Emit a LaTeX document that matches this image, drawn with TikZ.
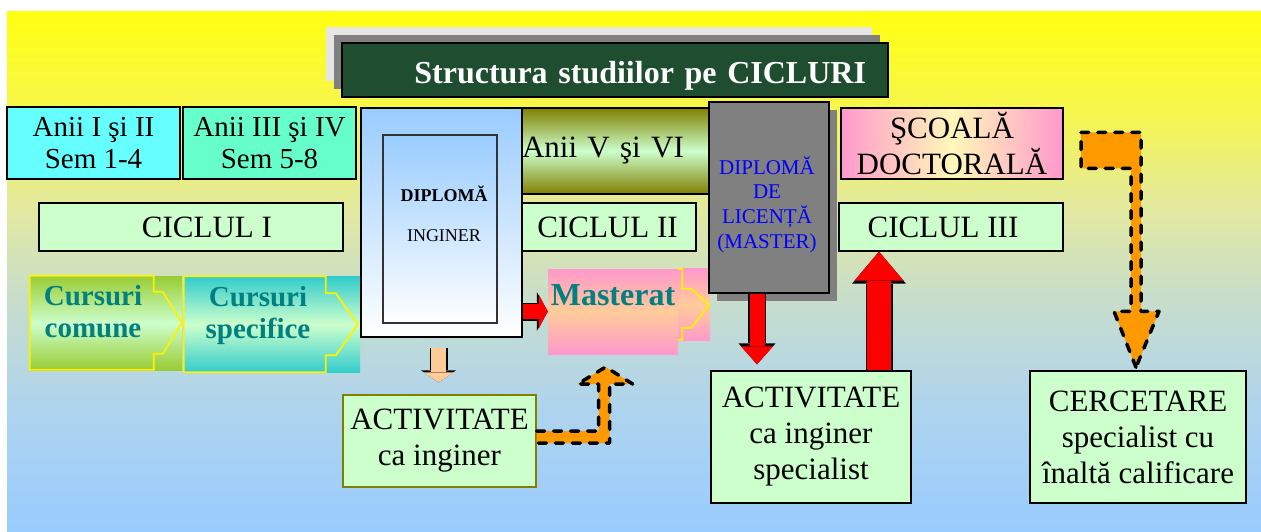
\documentclass[tikz,border=0pt]{standalone}
\usepackage{fontspec}
\setmainfont{Liberation Serif}
\usetikzlibrary{arrows.meta, shadows}

\definecolor{bgblue}{HTML}{99CCFF}
\definecolor{bgblue2}{HTML}{B0D4EC}
\definecolor{bgmid}{HTML}{C8DECB}
\definecolor{bgpale}{HTML}{E2E9A0}
\definecolor{bgyel2}{HTML}{F6F650}
\definecolor{bgyellow}{HTML}{FFFF10}
\definecolor{cyanA}{HTML}{66FFFF}
\definecolor{aquaA}{HTML}{66FFCC}
\definecolor{lgreen}{HTML}{CCFFCC}
\definecolor{oliveA}{HTML}{808000}
\definecolor{lblue}{HTML}{99CCFF}
\definecolor{pinkA}{HTML}{FF99CC}
\definecolor{peachA}{HTML}{FFCC99}
\definecolor{lyellow}{HTML}{FFF8B8}
\definecolor{grayA}{HTML}{808080}
\definecolor{ygreenA}{HTML}{99CC33}
\definecolor{tealL}{HTML}{33CCCC}
\definecolor{tealC}{HTML}{008080}
\definecolor{orangeC}{HTML}{FF9900}
\definecolor{titlegreen}{HTML}{1F4D30}
\definecolor{titlegray}{HTML}{E6E6E6}

\pgfdeclareverticalshading{bgshade}{100bp}{color(0bp)=(bgblue); color(25bp)=(bgblue); color(37.5bp)=(bgblue2); color(47.5bp)=(bgmid); color(56bp)=(bgpale); color(65bp)=(bgyel2); color(75bp)=(bgyellow); color(100bp)=(bgyellow)}

\begin{document}
\begin{tikzpicture}[x=1pt, y=-1pt,
        box/.style = {draw, line width=1.3pt, inner sep=0pt, align=center, font=\fontsize{31}{36}\selectfont},
        lbox/.style = {box, fill=lgreen},
        curs/.style = {text=tealC, align=center, font=\bfseries\fontsize{29}{32}\selectfont},
        chev/.style = {draw=yellow, line width=1.8pt},
        redh/.style = {draw=red, line width=15pt, -{Triangle[width=34pt, length=9pt, line width=0pt]}, preaction={draw=black, line width=18pt, -{Triangle[width=39pt, length=11pt, line width=0pt]}}},
        redv/.style = {draw=red, line width=15pt, -{Triangle[width=32pt, length=18pt, line width=0pt]}, preaction={draw=black, line width=18pt, -{Triangle[width=37pt, length=21pt, line width=0pt]}}},
        redup/.style = {draw=red, line width=24pt, -{Triangle[width=49pt, length=29pt, line width=0pt]}, preaction={draw=black, line width=27pt, -{Triangle[width=54pt, length=32pt, line width=0pt]}}},
        peach/.style = {draw=peachA, line width=15pt, -{Triangle[width=30pt, length=10pt, line width=0pt]}, preaction={draw=black, line width=18pt, -{Triangle[width=35pt, length=12pt, line width=0pt]}}},
        dasharrow/.style = {draw=black, fill=orangeC, line width=3.5pt, dash pattern=on 8pt off 9pt, line cap=round, line join=round}]
                \useasboundingbox (0,0) rectangle (1261,531);
                \shade[shading=bgshade] (7,11) rectangle (1261,531);

                \node[draw, line width=1.5pt, fill=titlegreen, minimum width=546pt, minimum height=54pt, inner ysep=0pt, inner xsep=22pt, text width=502pt, align=right, text height=26pt, text depth=0pt, text=white, font=\bfseries\fontsize{32}{38}\selectfont, copy shadow={shadow xshift=-16pt, shadow yshift=16pt, fill=titlegray, draw=none}, copy shadow={shadow xshift=-8pt, shadow yshift=8pt, fill=grayA, draw=none}] at (615,70) (title) {Structura studiilor pe CICLURI};

                \node[box, fill=cyanA, font=\fontsize{29}{32}\selectfont, minimum width=173pt, minimum height=72pt] at (93.5,143) (anii1) {Anii I şi II\\Sem 1-4};
                \node[box, fill=aquaA, font=\fontsize{29}{32}\selectfont, minimum width=173pt, minimum height=72pt] at (269.5,143) (anii2) {Anii III şi IV\\Sem 5-8};
                \node[box, top color=oliveA, bottom color=oliveA, middle color=lgreen, minimum width=190pt, minimum height=86pt, text width=184pt, align=left] at (614,151) (anii3) {Anii V şi VI};
                \node[box, left color=pinkA, right color=pinkA, middle color=lyellow, minimum width=222pt, minimum height=71pt] at (952,143.5) (scoala) {ŞCOALĂ\\DOCTORALĂ};

                \node[lbox, minimum width=304pt, minimum height=48pt] at (191,227) (ciclu1) {\hspace*{32pt}CICLUL I};
                \node[lbox, minimum width=177pt, minimum height=48pt] at (607.5,227) (ciclu2) {CICLUL II};
                \node[lbox, minimum width=224pt, minimum height=48pt] at (951,227) (ciclu3) {CICLUL III\hspace*{16pt}};

                \node[top color=ygreenA, bottom color=ygreenA, middle color=lgreen, minimum width=152pt, minimum height=94pt, inner sep=0pt, label={[curs, xshift=-13pt, yshift=11pt]center:{Cursuri\\comune}}] at (106,323) (curs1) {};
                \node[top color=tealL, bottom color=tealL, middle color=lgreen, minimum width=176pt, minimum height=96pt, inner sep=0pt, label={[curs, xshift=-14pt, yshift=9pt]center:{Cursuri\\specifice}}] at (272,324.5) (curs2) {};
                \draw[chev] (curs1.north west) -- ++(124,0) -- ++(0,16) -- ++(9,0) -- ++(19,31) -- ++(-19,31) -- ++(-9,0) -- ++(0,16) -- ++(-124,0) -- cycle;
                \draw[chev] (curs2.north west) -- ++(142,0) -- ++(0,17) -- ++(10,0) -- ++(22,31) -- ++(-22,31) -- ++(-10,0) -- ++(0,17) -- ++(-142,0) -- cycle;

                \node[box, top color=lblue, bottom color=white, minimum width=161pt, minimum height=229pt] at (441.5,222.5) (dipl1) {};
                \node[draw=black!80, line width=1.2pt, top color=lblue, bottom color=white, minimum width=114pt, minimum height=188pt, label={[align=center, font=\fontsize{18}{22}\selectfont, xshift=4pt, yshift=14.75pt]center:{\textbf{DIPLOMĂ}\\[18pt]INGINER}}] at (440,229) (dipl1in) {};

                \node[top color=pinkA, bottom color=pinkA, middle color=peachA, minimum width=130pt, minimum height=85pt, inner sep=0pt, label={[text=tealC, font=\bfseries\fontsize{32}{38}\selectfont, yshift=16pt]center:Masterat}] at (613,311.5) (master) {};
                \shade[top color=pinkA, bottom color=pinkA, middle color=peachA] (master.north east) rectangle ++(32,72);
                \draw[chev] (master.north east) -- ++(4,0) -- ++(0,20) -- ++(9,0) -- ++(18,16) -- ++(-18,23) -- ++(-9,0) -- ++(0,12) -- ++(-4,0);

                \node[box, fill=grayA, minimum width=120pt, minimum height=191pt, copy shadow={shadow xshift=8pt, shadow yshift=-8pt, fill=grayA, draw=none}, label={[text=blue, align=center, font=\fontsize{21}{24.7}\selectfont, xshift=-2pt, yshift=-7pt]center:{DIPLOMĂ\\DE\\LICENȚĂ\\(MASTER)}}] at (769,197.5) (dipl2) {};

                \node[lbox, draw=oliveA, minimum width=193pt, minimum height=92pt] at (439.5,441) (activ1) {ACTIVITATE\\ca inginer};
                \node[lbox, minimum width=200pt, minimum height=132pt] at (811,437) (activ2) {ACTIVITATE\\ca inginer\\specialist};
                \node[lbox, minimum width=216pt, minimum height=132pt] at (1138,437) (cercet) {CERCETARE\\specialist cu\\înaltă calificare};

                \draw[redh] (dipl1.east |- master.west) -- (master.west);
                \draw[peach, shorten <=10pt, shorten >=12pt] ([xshift=-3pt]dipl1.south) -- ([xshift=-3pt]dipl1.south |- activ1.north);
                \draw[redv, shorten >=6pt] ([xshift=-12pt]dipl2.south) -- ([xshift=-12pt]dipl2.south |- activ2.north);
                \draw[redup] ([xshift=68pt]activ2.north) -- ([xshift=68pt]activ2.north |- ciclu3.south);

                \draw[dasharrow] ([yshift=10pt]activ1.east) -- ++(62,0) -- ++(0,-47) -- ++(-21,0) -- ++(28,-17) -- ++(27,17) -- ++(-23,0) -- ++(0,59) -- ++(-73,0);
                \draw[dasharrow] ([shift={(-2,-3)}]cercet.north) -- ++(-22,-56) -- ++(17,0) -- ++(0,-143) -- ++(-50,0) -- ++(0,-36) -- ++(60,0) -- ++(0,179) -- ++(18,0) -- cycle;
\end{tikzpicture}
\end{document}
